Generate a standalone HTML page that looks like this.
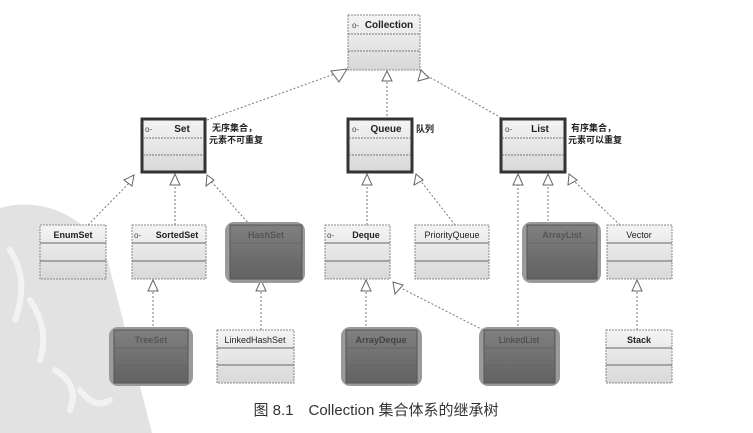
<!DOCTYPE html>
<html><head><meta charset="utf-8"><style>
html,body{margin:0;padding:0;background:#fff;width:753px;height:433px;overflow:hidden}
svg text{font-family:"Liberation Sans","Noto Sans CJK SC",sans-serif}
</style></head><body>
<svg width="753" height="433" viewBox="0 0 753 433" xmlns="http://www.w3.org/2000/svg">
<defs>
<linearGradient id="lg" x1="0" y1="0" x2="0" y2="1"><stop offset="0" stop-color="#f4f4f4"/><stop offset="1" stop-color="#d8d8d8"/></linearGradient>
<linearGradient id="dg" x1="0" y1="0" x2="0" y2="1"><stop offset="0" stop-color="#808080"/><stop offset="1" stop-color="#626262"/></linearGradient>
</defs>
<path d="M0,208 C40,196 90,215 108,262 L152,433 L0,433 Z" fill="#e2e2e2"/>
<g stroke="#f2f2f2" stroke-width="6" fill="none" stroke-linecap="round">
<path d="M10,250 Q30,280 15,320"/><path d="M30,300 Q50,330 40,360"/><path d="M55,370 Q80,385 70,410"/><path d="M80,390 Q95,410 110,400"/>
</g>
<g stroke="#777" stroke-width="1" stroke-dasharray="2,2" fill="none">
<line x1="207" y1="120" x2="340" y2="72"/>
<line x1="387" y1="120" x2="387" y2="80"/>
<line x1="505" y1="120" x2="424" y2="74"/>
<line x1="88" y1="225" x2="132" y2="180"/>
<line x1="175" y1="225" x2="175" y2="182"/>
<line x1="250" y1="225" x2="210" y2="180"/>
<line x1="367" y1="225" x2="367" y2="182"/>
<line x1="455" y1="225" x2="420" y2="180"/>
<line x1="518" y1="330" x2="518" y2="182"/>
<line x1="548" y1="225" x2="548" y2="182"/>
<line x1="620" y1="225" x2="573" y2="180"/>
<line x1="153" y1="330" x2="153" y2="287"/>
<line x1="261" y1="330" x2="261" y2="287"/>
<line x1="366" y1="330" x2="366" y2="287"/>
<line x1="483" y1="330" x2="399" y2="287"/>
<line x1="637" y1="330" x2="637" y2="287"/>
</g>
<g fill="#fff" stroke="#666" stroke-width="1">
<polygon points="347,69 331,71 339,82"/>
<polygon points="387,71 382,81 392,81"/>
<polygon points="421,70 418,81 429,78"/>
<polygon points="134,175 124,180 132,186"/>
<polygon points="175,174 170,185 180,185"/>
<polygon points="207,175 206,186 214,180"/>
<polygon points="367,174 362,185 372,185"/>
<polygon points="416,174 414,185 423,180"/>
<polygon points="518,174 513,185 523,185"/>
<polygon points="548,174 543,185 553,185"/>
<polygon points="569,174 568,185 577,180"/>
<polygon points="153,280 148,291 158,291"/>
<polygon points="261,280 256,291 266,291"/>
<polygon points="366,280 361,291 371,291"/>
<polygon points="393,282 395,294 403,285"/>
<polygon points="637,280 632,291 642,291"/>
</g>
<g stroke="#888" stroke-width="1" stroke-dasharray="2,1">
<rect x="348" y="15" width="72" height="55" fill="url(#lg)"/>
<rect x="40" y="225" width="66" height="54" fill="url(#lg)"/>
<rect x="132" y="225" width="74" height="54" fill="url(#lg)"/>
<rect x="325" y="225" width="65" height="54" fill="url(#lg)"/>
<rect x="415" y="225" width="74" height="54" fill="url(#lg)"/>
<rect x="607" y="225" width="65" height="54" fill="url(#lg)"/>
<rect x="217" y="330" width="77" height="53" fill="url(#lg)"/>
<rect x="606" y="330" width="66" height="53" fill="url(#lg)"/>
</g>
<g>
<rect x="225" y="222" width="80" height="61" rx="9" fill="#9a9a9a"/>
<rect x="230" y="225" width="72" height="54" fill="url(#dg)" stroke="#555"/>
<rect x="522" y="222" width="79" height="61" rx="9" fill="#9a9a9a"/>
<rect x="527" y="225" width="70" height="54" fill="url(#dg)" stroke="#555"/>
<rect x="109" y="327" width="84" height="59" rx="9" fill="#9a9a9a"/>
<rect x="114" y="330" width="74" height="53" fill="url(#dg)" stroke="#555"/>
<rect x="341" y="327" width="81" height="59" rx="9" fill="#9a9a9a"/>
<rect x="346" y="330" width="71" height="53" fill="url(#dg)" stroke="#555"/>
<rect x="479" y="327" width="81" height="59" rx="9" fill="#9a9a9a"/>
<rect x="484" y="330" width="71" height="53" fill="url(#dg)" stroke="#555"/>
</g>
<g stroke="#333" stroke-width="3">
<rect x="142" y="119" width="63" height="53" fill="url(#lg)"/>
<rect x="348" y="119" width="64" height="53" fill="url(#lg)"/>
<rect x="501" y="119" width="64" height="53" fill="url(#lg)"/>
</g>
<g stroke="#777" stroke-width="1" stroke-dasharray="2,1">
<line x1="348" y1="34" x2="420" y2="34"/><line x1="348" y1="51" x2="420" y2="51"/>
<line x1="143" y1="138" x2="204" y2="138"/><line x1="143" y1="155" x2="204" y2="155"/>
<line x1="349" y1="138" x2="411" y2="138"/><line x1="349" y1="155" x2="411" y2="155"/>
<line x1="502" y1="138" x2="564" y2="138"/><line x1="502" y1="155" x2="564" y2="155"/>
</g>
<g stroke="#666" stroke-width="1">
<path d="M40,243h66M40,261h66M132,243h74M132,261h74M230,243h72M230,261h72M325,243h65M325,261h65M415,243h74M415,261h74M527,243h70M527,261h70M607,243h65M607,261h65"/>
<path d="M114,348h74M114,365h74M217,348h77M217,365h77M346,348h71M346,365h71M484,348h71M484,365h71M606,348h66M606,365h66"/>
</g>
<g font-size="9" fill="#222" text-anchor="middle" font-weight="bold">
<text x="389" y="28" font-size="10">Collection</text>
<text x="182" y="132" font-size="10">Set</text>
<text x="386" y="132" font-size="10">Queue</text>
<text x="540" y="132" font-size="10">List</text>
<text x="73" y="238">EnumSet</text>
<text x="177" y="238">SortedSet</text>
<text x="266" y="238" fill="#555">HashSet</text>
<text x="366" y="238">Deque</text>
<text x="452" y="238" font-weight="normal">PriorityQueue</text>
<text x="562" y="238" fill="#555">ArrayList</text>
<text x="639" y="238" font-weight="normal">Vector</text>
<text x="151" y="343" fill="#555">TreeSet</text>
<text x="255" y="343" font-weight="normal">LinkedHashSet</text>
<text x="381" y="343" fill="#444">ArrayDeque</text>
<text x="519" y="343" fill="#444" font-weight="normal">LinkedList</text>
<text x="639" y="343">Stack</text>
</g>
<g font-size="8" fill="#444">
<text x="352" y="28">o-</text><text x="145" y="132">o-</text><text x="352" y="132">o-</text><text x="505" y="132">o-</text>
<text x="134" y="238">o-</text><text x="327" y="238">o-</text>
</g>
<g font-size="9" fill="#222" font-weight="bold">
<text x="212" y="131">无序集合，</text><text x="209" y="143">元素不可重复</text>
<text x="416" y="132">队列</text>
<text x="571" y="131">有序集合，</text><text x="568" y="143">元素可以重复</text>
</g>
<text x="376" y="415" font-size="15" fill="#333" text-anchor="middle">图 8.1　Collection 集合体系的继承树</text>
</svg>
</body></html>
